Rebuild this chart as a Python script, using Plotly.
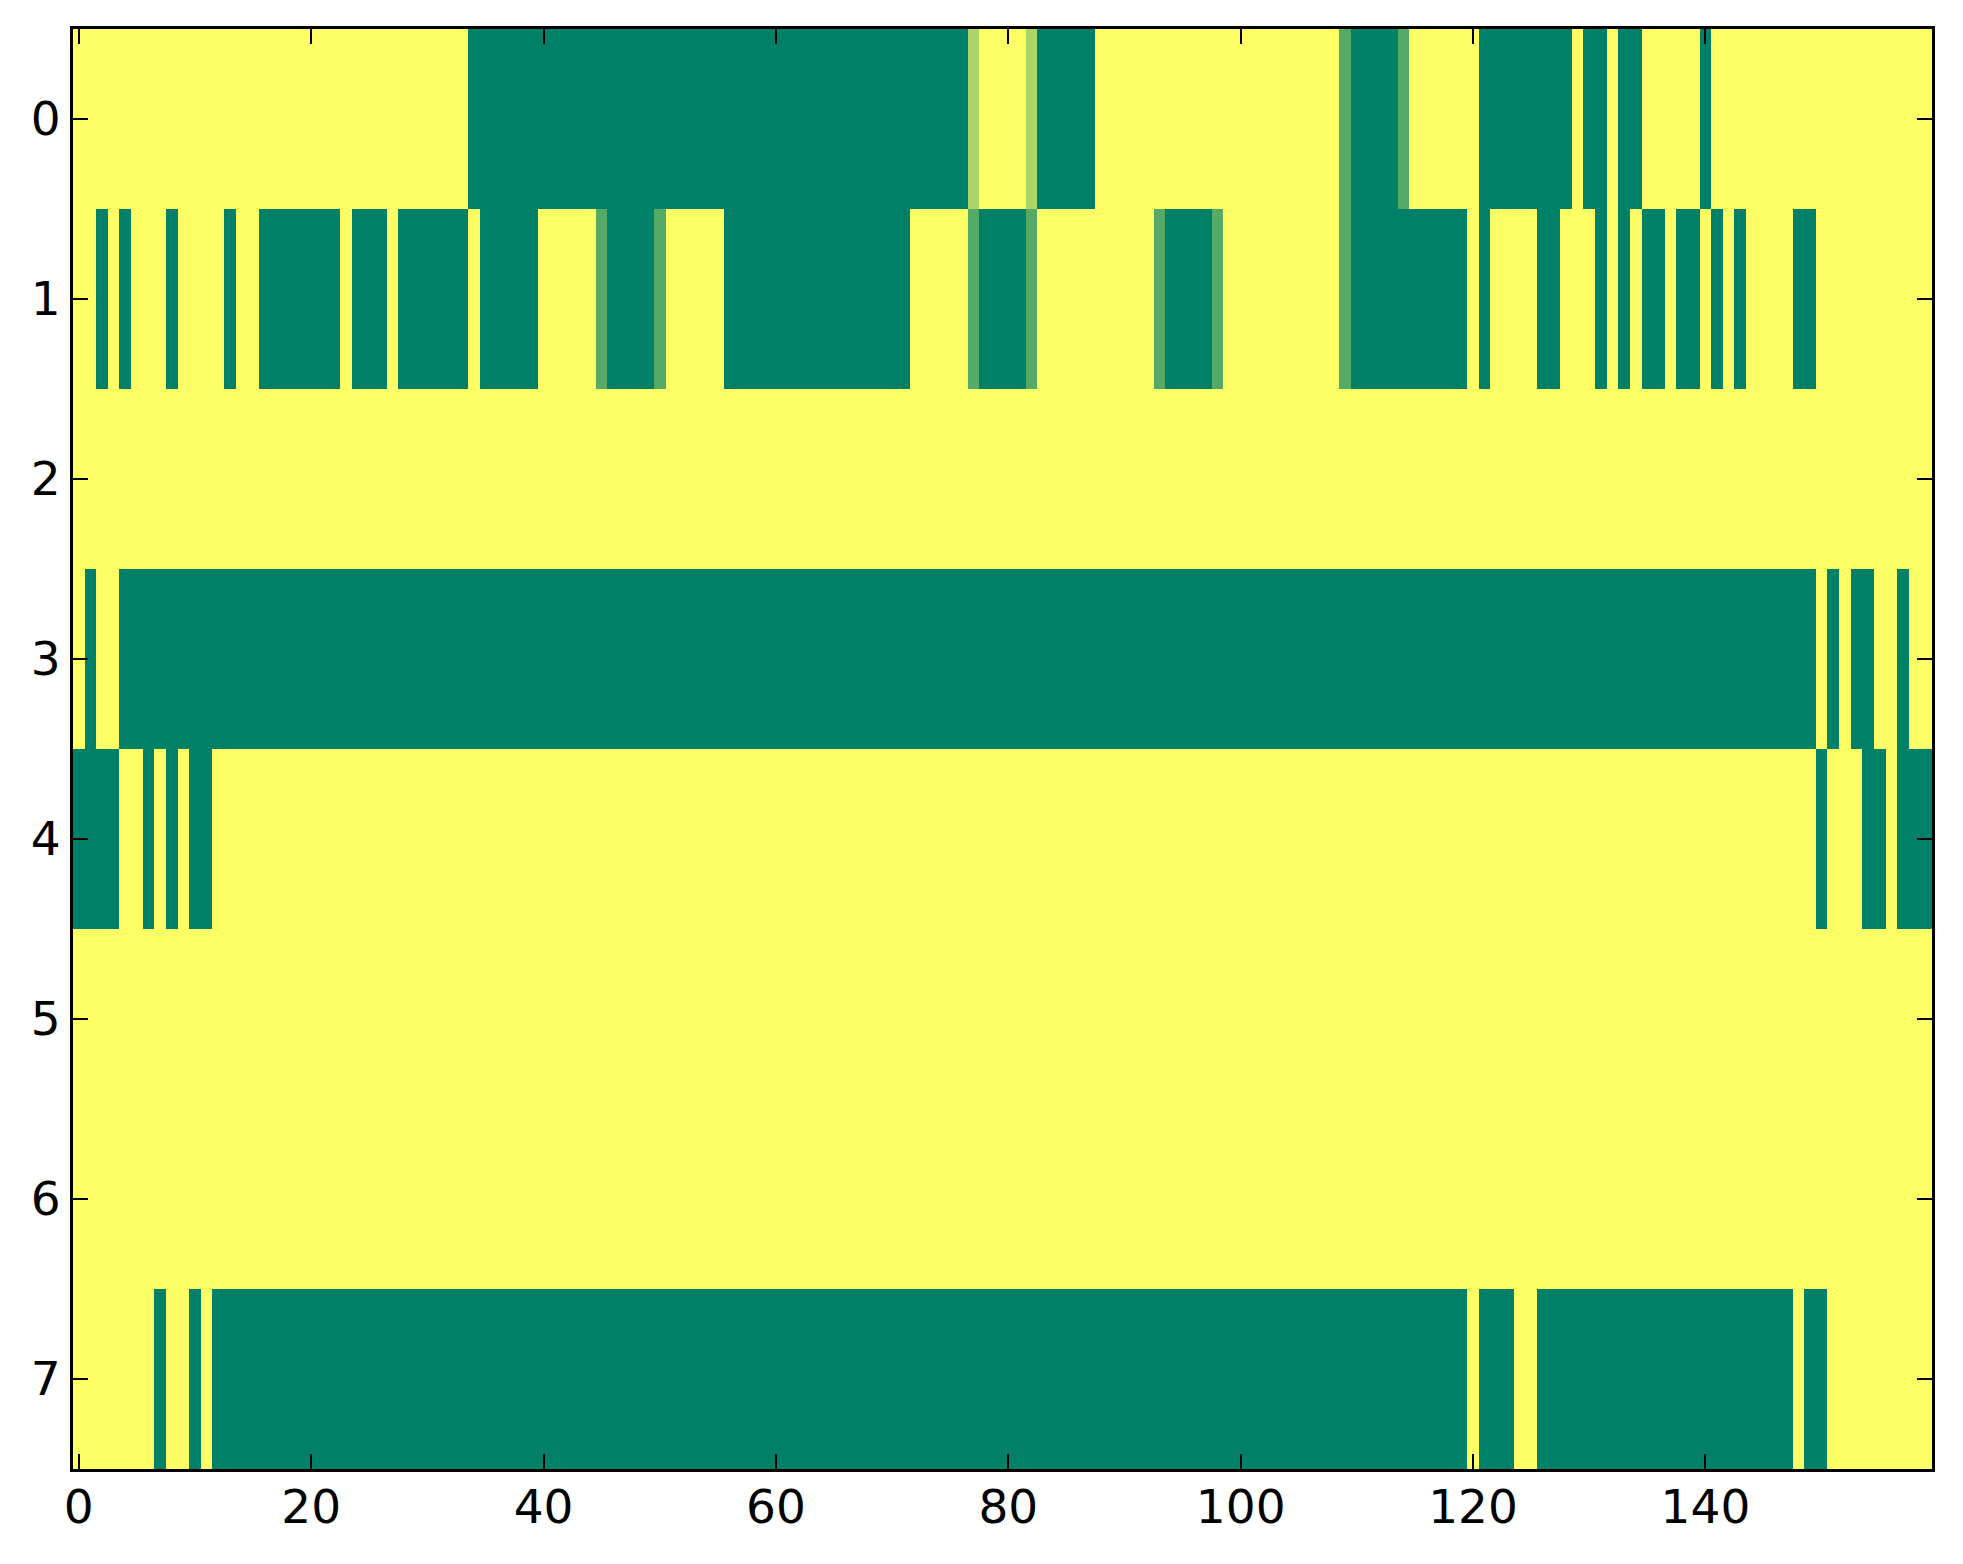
import plotly.graph_objects as go

# one list per image row, 160 columns each (0 = green, 1 = yellow)
row0 = [1, 1, 1, 1, 1, 1, 1, 1, 1, 1, 1, 1, 1, 1, 1, 1, 1, 1, 1, 1,
        1, 1, 1, 1, 1, 1, 1, 1, 1, 1, 1, 1, 1, 1, 0, 0, 0, 0, 0, 0,
        0, 0, 0, 0, 0, 0, 0, 0, 0, 0, 0, 0, 0, 0, 0, 0, 0, 0, 0, 0,
        0, 0, 0, 0, 0, 0, 0, 0, 0, 0, 0, 0, 0, 0, 0, 0, 0, 0.67, 1, 1,
        1, 1, 0.67, 0, 0, 0, 0, 0, 1, 1, 1, 1, 1, 1, 1, 1, 1, 1, 1, 1,
        1, 1, 1, 1, 1, 1, 1, 1, 1, 0.33, 0, 0, 0, 0, 0.33, 1, 1, 1, 1, 1,
        1, 0, 0, 0, 0, 0, 0, 0, 0, 1, 0, 0, 1, 0, 0, 1, 1, 1, 1, 1,
        0, 1, 1, 1, 1, 1, 1, 1, 1, 1, 1, 1, 1, 1, 1, 1, 1, 1, 1, 1]
row1 = [1, 1, 0, 1, 0, 1, 1, 1, 0, 1, 1, 1, 1, 0, 1, 1, 0, 0, 0, 0,
        0, 0, 0, 1, 0, 0, 0, 1, 0, 0, 0, 0, 0, 0, 1, 0, 0, 0, 0, 0,
        1, 1, 1, 1, 1, 0.33, 0, 0, 0, 0, 0.33, 1, 1, 1, 1, 1, 0, 0, 0, 0,
        0, 0, 0, 0, 0, 0, 0, 0, 0, 0, 0, 0, 1, 1, 1, 1, 1, 0.33, 0, 0,
        0, 0, 0.33, 1, 1, 1, 1, 1, 1, 1, 1, 1, 1, 0.33, 0, 0, 0, 0, 0.33, 1,
        1, 1, 1, 1, 1, 1, 1, 1, 1, 0.33, 0, 0, 0, 0, 0, 0, 0, 0, 0, 0,
        1, 0, 1, 1, 1, 1, 0, 0, 1, 1, 1, 0, 1, 0, 1, 0, 0, 1, 0, 0,
        1, 0, 1, 0, 1, 1, 1, 1, 0, 0, 1, 1, 1, 1, 1, 1, 1, 1, 1, 1]
row2 = [1, 1, 1, 1, 1, 1, 1, 1, 1, 1, 1, 1, 1, 1, 1, 1, 1, 1, 1, 1,
        1, 1, 1, 1, 1, 1, 1, 1, 1, 1, 1, 1, 1, 1, 1, 1, 1, 1, 1, 1,
        1, 1, 1, 1, 1, 1, 1, 1, 1, 1, 1, 1, 1, 1, 1, 1, 1, 1, 1, 1,
        1, 1, 1, 1, 1, 1, 1, 1, 1, 1, 1, 1, 1, 1, 1, 1, 1, 1, 1, 1,
        1, 1, 1, 1, 1, 1, 1, 1, 1, 1, 1, 1, 1, 1, 1, 1, 1, 1, 1, 1,
        1, 1, 1, 1, 1, 1, 1, 1, 1, 1, 1, 1, 1, 1, 1, 1, 1, 1, 1, 1,
        1, 1, 1, 1, 1, 1, 1, 1, 1, 1, 1, 1, 1, 1, 1, 1, 1, 1, 1, 1,
        1, 1, 1, 1, 1, 1, 1, 1, 1, 1, 1, 1, 1, 1, 1, 1, 1, 1, 1, 1]
row3 = [1, 0, 1, 1, 0, 0, 0, 0, 0, 0, 0, 0, 0, 0, 0, 0, 0, 0, 0, 0,
        0, 0, 0, 0, 0, 0, 0, 0, 0, 0, 0, 0, 0, 0, 0, 0, 0, 0, 0, 0,
        0, 0, 0, 0, 0, 0, 0, 0, 0, 0, 0, 0, 0, 0, 0, 0, 0, 0, 0, 0,
        0, 0, 0, 0, 0, 0, 0, 0, 0, 0, 0, 0, 0, 0, 0, 0, 0, 0, 0, 0,
        0, 0, 0, 0, 0, 0, 0, 0, 0, 0, 0, 0, 0, 0, 0, 0, 0, 0, 0, 0,
        0, 0, 0, 0, 0, 0, 0, 0, 0, 0, 0, 0, 0, 0, 0, 0, 0, 0, 0, 0,
        0, 0, 0, 0, 0, 0, 0, 0, 0, 0, 0, 0, 0, 0, 0, 0, 0, 0, 0, 0,
        0, 0, 0, 0, 0, 0, 0, 0, 0, 0, 1, 0, 1, 0, 0, 1, 1, 0, 1, 1]
row4 = [0, 0, 0, 0, 1, 1, 0, 1, 0, 1, 0, 0, 1, 1, 1, 1, 1, 1, 1, 1,
        1, 1, 1, 1, 1, 1, 1, 1, 1, 1, 1, 1, 1, 1, 1, 1, 1, 1, 1, 1,
        1, 1, 1, 1, 1, 1, 1, 1, 1, 1, 1, 1, 1, 1, 1, 1, 1, 1, 1, 1,
        1, 1, 1, 1, 1, 1, 1, 1, 1, 1, 1, 1, 1, 1, 1, 1, 1, 1, 1, 1,
        1, 1, 1, 1, 1, 1, 1, 1, 1, 1, 1, 1, 1, 1, 1, 1, 1, 1, 1, 1,
        1, 1, 1, 1, 1, 1, 1, 1, 1, 1, 1, 1, 1, 1, 1, 1, 1, 1, 1, 1,
        1, 1, 1, 1, 1, 1, 1, 1, 1, 1, 1, 1, 1, 1, 1, 1, 1, 1, 1, 1,
        1, 1, 1, 1, 1, 1, 1, 1, 1, 1, 0, 1, 1, 1, 0, 0, 1, 0, 0, 0]
row5 = [1, 1, 1, 1, 1, 1, 1, 1, 1, 1, 1, 1, 1, 1, 1, 1, 1, 1, 1, 1,
        1, 1, 1, 1, 1, 1, 1, 1, 1, 1, 1, 1, 1, 1, 1, 1, 1, 1, 1, 1,
        1, 1, 1, 1, 1, 1, 1, 1, 1, 1, 1, 1, 1, 1, 1, 1, 1, 1, 1, 1,
        1, 1, 1, 1, 1, 1, 1, 1, 1, 1, 1, 1, 1, 1, 1, 1, 1, 1, 1, 1,
        1, 1, 1, 1, 1, 1, 1, 1, 1, 1, 1, 1, 1, 1, 1, 1, 1, 1, 1, 1,
        1, 1, 1, 1, 1, 1, 1, 1, 1, 1, 1, 1, 1, 1, 1, 1, 1, 1, 1, 1,
        1, 1, 1, 1, 1, 1, 1, 1, 1, 1, 1, 1, 1, 1, 1, 1, 1, 1, 1, 1,
        1, 1, 1, 1, 1, 1, 1, 1, 1, 1, 1, 1, 1, 1, 1, 1, 1, 1, 1, 1]
row6 = [1, 1, 1, 1, 1, 1, 1, 1, 1, 1, 1, 1, 1, 1, 1, 1, 1, 1, 1, 1,
        1, 1, 1, 1, 1, 1, 1, 1, 1, 1, 1, 1, 1, 1, 1, 1, 1, 1, 1, 1,
        1, 1, 1, 1, 1, 1, 1, 1, 1, 1, 1, 1, 1, 1, 1, 1, 1, 1, 1, 1,
        1, 1, 1, 1, 1, 1, 1, 1, 1, 1, 1, 1, 1, 1, 1, 1, 1, 1, 1, 1,
        1, 1, 1, 1, 1, 1, 1, 1, 1, 1, 1, 1, 1, 1, 1, 1, 1, 1, 1, 1,
        1, 1, 1, 1, 1, 1, 1, 1, 1, 1, 1, 1, 1, 1, 1, 1, 1, 1, 1, 1,
        1, 1, 1, 1, 1, 1, 1, 1, 1, 1, 1, 1, 1, 1, 1, 1, 1, 1, 1, 1,
        1, 1, 1, 1, 1, 1, 1, 1, 1, 1, 1, 1, 1, 1, 1, 1, 1, 1, 1, 1]
row7 = [1, 1, 1, 1, 1, 1, 1, 0, 1, 1, 0, 1, 0, 0, 0, 0, 0, 0, 0, 0,
        0, 0, 0, 0, 0, 0, 0, 0, 0, 0, 0, 0, 0, 0, 0, 0, 0, 0, 0, 0,
        0, 0, 0, 0, 0, 0, 0, 0, 0, 0, 0, 0, 0, 0, 0, 0, 0, 0, 0, 0,
        0, 0, 0, 0, 0, 0, 0, 0, 0, 0, 0, 0, 0, 0, 0, 0, 0, 0, 0, 0,
        0, 0, 0, 0, 0, 0, 0, 0, 0, 0, 0, 0, 0, 0, 0, 0, 0, 0, 0, 0,
        0, 0, 0, 0, 0, 0, 0, 0, 0, 0, 0, 0, 0, 0, 0, 0, 0, 0, 0, 0,
        1, 0, 0, 0, 1, 1, 0, 0, 0, 0, 0, 0, 0, 0, 0, 0, 0, 0, 0, 0,
        0, 0, 0, 0, 0, 0, 0, 0, 1, 0, 0, 1, 1, 1, 1, 1, 1, 1, 1, 1]

rows = [row0, row1, row2, row3, row4, row5, row6, row7]

xticks = [0, 20, 40, 60, 80, 100, 120, 140]
yticks = [0, 1, 2, 3, 4, 5, 6, 7]

# matplotlib "summer"
summer = [[0, 'rgb(0,128,102)'], [1, 'rgb(255,255,102)']]

fig = go.Figure(go.Heatmap(
    z=rows,
    x=list(range(len(row0))),
    y=list(range(len(rows))),
    colorscale=summer,
    zmin=0, zmax=1,
    showscale=False,
    hoverongaps=False,
))

axis_style = dict(
    showgrid=False, zeroline=False,
    showline=True, linewidth=3, linecolor='black', mirror='ticks',
    ticks='inside', ticklen=15, tickwidth=2, tickcolor='black',
)

fig.update_xaxes(range=[-0.5, 159.5], tickvals=xticks, ticklabelstandoff=-5, **axis_style)
fig.update_yaxes(range=[7.5, -0.5], tickvals=yticks, ticklabelstandoff=0, **axis_style)

# page body has an 8px margin, so the figure is 16px smaller than the window
fig.update_layout(
    width=1947, height=1548,
    margin=dict(l=65, r=23, t=21, b=87, pad=0),
    paper_bgcolor='white', plot_bgcolor='white',
    font=dict(family='DejaVu Sans', size=47, color='black'),
)

fig.write_html("out.html")
